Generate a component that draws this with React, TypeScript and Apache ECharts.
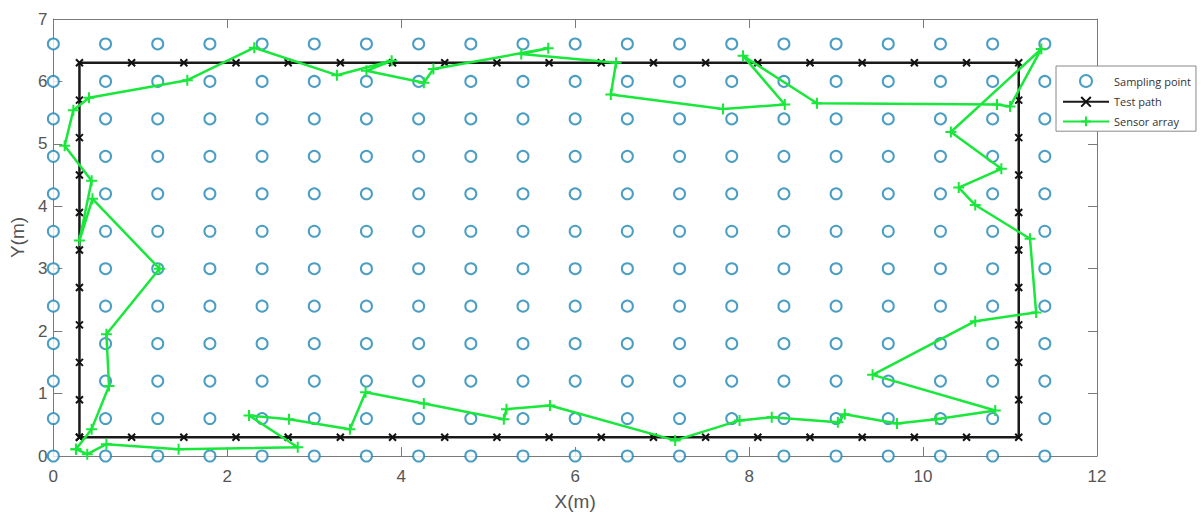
import React, { useEffect, useRef } from "react";
import * as echarts from "echarts";

// Sampling grid coordinates (m)
const sampleX = [0, 0.6, 1.2, 1.8, 2.4, 3.0, 3.6, 4.2, 4.8, 5.4, 6.0, 6.6, 7.2, 7.8, 8.4, 9.0, 9.6, 10.2, 10.8, 11.4];
const sampleY = [0, 0.6, 1.2, 1.8, 2.4, 3.0, 3.6, 4.2, 4.8, 5.4, 6.0, 6.6];

// Test path marker coordinates (m)
const pathX = [0.3, 0.9, 1.5, 2.1, 2.7, 3.3, 3.9, 4.5, 5.1, 5.7, 6.3, 6.9, 7.5, 8.1, 8.7, 9.3, 9.9, 10.5, 11.1];
const pathY = [0.3, 0.9, 1.5, 2.1, 2.7, 3.3, 3.9, 4.5, 5.1, 5.7, 6.3];

// Sensor array trajectory (m)
const sensorX = [
  0.26, 0.39, 0.61, 1.44, 2.81, 2.25, 2.71, 3.41, 3.59, 4.26, 5.18, 5.21, 5.71, 7.15, 7.89, 8.26, 9.02, 9.1,
  9.7, 10.15, 10.83, 9.42, 10.6, 11.3, 11.23, 10.6, 10.41, 10.9, 10.32, 11.36, 11.0, 10.85, 8.78, 7.93, 8.41,
  7.7, 6.41, 6.47, 5.38, 5.69, 4.37, 4.26, 3.6, 3.89, 3.26, 2.31, 1.54, 0.41, 0.23, 0.13, 0.44, 0.3, 0.45,
  1.22, 0.61, 0.64, 0.44, 0.26,
];
const sensorY = [
  0.11, 0.03, 0.19, 0.11, 0.14, 0.65, 0.59, 0.43, 1.02, 0.84, 0.59, 0.75, 0.81, 0.25, 0.57, 0.62, 0.54, 0.67,
  0.52, 0.59, 0.73, 1.3, 2.16, 2.3, 3.48, 4.02, 4.3, 4.6, 5.19, 6.52, 5.6, 5.63, 5.65, 6.41, 5.63,
  5.56, 5.79, 6.3, 6.44, 6.53, 6.2, 5.98, 6.17, 6.33, 6.1, 6.54, 6.02, 5.74, 5.54, 4.97, 4.41, 3.45, 4.12,
  3.0, 1.95, 1.12, 0.43, 0.11,
];

const xTicks = { min: 0, max: 12, interval: 2 };
const yTicks = { min: 0, max: 7, interval: 1 };

export default function App() {
  const ref = useRef<HTMLDivElement>(null);

  useEffect(() => {
    document.body.style.margin = "0";
    const chart = echarts.init(ref.current!, null, { renderer: "svg" });

    const samplingData: number[][] = [];
    for (const y of sampleY) for (const x of sampleX) samplingData.push([x, y]);

    const last = pathX[pathX.length - 1];
    const top = pathY[pathY.length - 1];
    const first = pathX[0];
    const bottom = pathY[0];
    const testData: number[][] = [];
    for (const y of pathY) testData.push([first, y]);
    for (const x of pathX.slice(1)) testData.push([x, top]);
    for (const y of pathY.slice(0, -1).reverse()) testData.push([last, y]);
    for (const x of pathX.slice(0, -1).reverse()) testData.push([x, bottom]);

    const sensorData = sensorX.map((x, i) => [x, sensorY[i]]);

    const axisCommon = {
      axisLine: { show: true, onZero: false, lineStyle: { color: "#7a7a7a", width: 1 } },
      axisTick: { show: true, inside: true, length: 9, lineStyle: { color: "#7a7a7a" } },
      splitLine: { show: false },
    };
    const labelStyle = { color: "#555", fontSize: 17, fontFamily: "Liberation Sans" };

    chart.setOption({
      animation: false,
      backgroundColor: "#fff",
      grid: { left: 50, right: 106, top: 19, bottom: 57, containLabel: false },
      xAxis: [
        {
          type: "value",
          ...xTicks,
          position: "bottom",
          ...axisCommon,
          axisLabel: { ...labelStyle, margin: 12 },
          name: "X(m)",
          nameLocation: "middle",
          nameGap: 36,
          nameTextStyle: { color: "#555", fontSize: 19, fontFamily: "Liberation Sans" },
        },
        { type: "value", ...xTicks, position: "top", ...axisCommon, axisLabel: { show: false } },
      ],
      yAxis: [
        {
          type: "value",
          ...yTicks,
          position: "left",
          ...axisCommon,
          axisLabel: { ...labelStyle, margin: 6 },
          name: "Y(m)",
          nameLocation: "middle",
          nameGap: 24,
          nameRotate: 90,
          nameTextStyle: { color: "#555", fontSize: 19, fontFamily: "Liberation Sans" },
        },
        { type: "value", ...yTicks, position: "right", ...axisCommon, axisLabel: { show: false } },
      ],
      legend: {
        orient: "vertical",
        left: 1056,
        top: 66,
        padding: [8, 5, 4, 6],
        itemWidth: 46,
        itemHeight: 12,
        itemGap: 8,
        selectedMode: false,
        backgroundColor: "#fff",
        borderColor: "#888",
        borderWidth: 1,
        textStyle: { color: "#333", fontSize: 11, fontFamily: "Open Sans" },
        data: ["Sampling point", "Test path", "Sensor array"],
      },
      series: [
        {
          name: "Sampling point",
          type: "scatter",
          data: samplingData,
          symbol: "emptyCircle",
          symbolSize: 11,
          itemStyle: { color: "#1e86b4", borderColor: "#1e86b4", borderWidth: 2 },
          z: 1,
        },
        {
          name: "Test path",
          type: "line",
          data: testData,
          symbol: "path://M0,0L10,10M10,0L0,10",
          symbolSize: 7,
          lineStyle: { color: "#1a1a1a", width: 2.5 },
          itemStyle: { color: "#111", borderColor: "#111", borderWidth: 2 },
          z: 2,
        },
        {
          name: "Sensor array",
          type: "line",
          data: sensorData,
          symbol: "path://M5,0L5,10M0,5L10,5",
          symbolSize: 11,
          lineStyle: { color: "#17e83a", width: 2.5 },
          itemStyle: { color: "#17e83a", borderColor: "#17e83a", borderWidth: 2 },
          z: 3,
        },
      ],
    });

    return () => chart.dispose();
  }, []);

  return <div ref={ref} style={{ width: 1203, height: 516 }} />;
}
